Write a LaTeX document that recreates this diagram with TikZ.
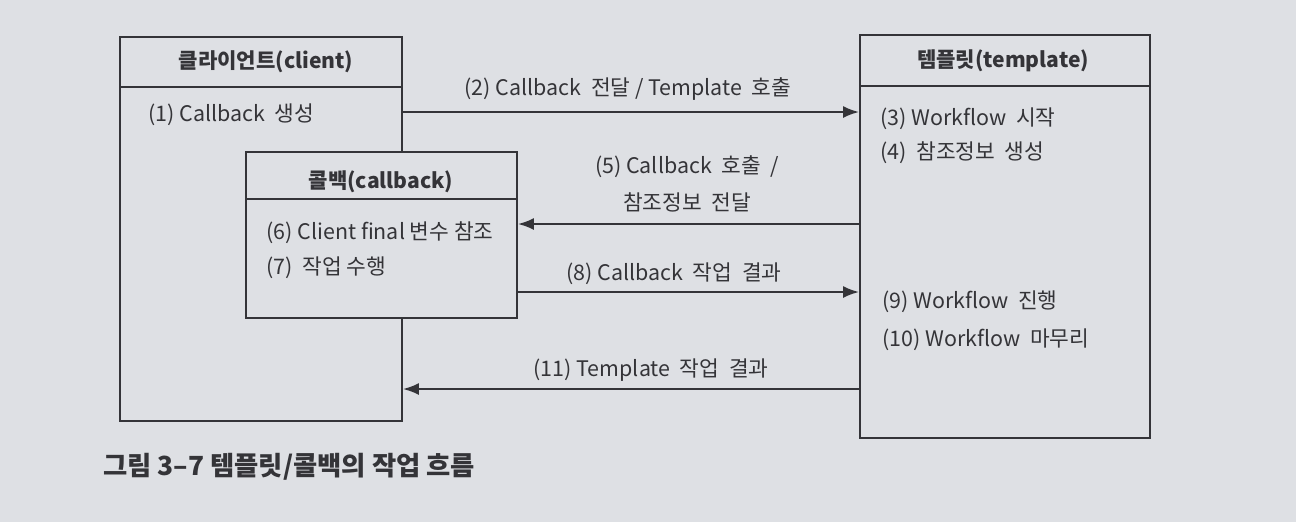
\documentclass[tikz,border=0pt]{standalone}
\usepackage{fontspec}
\setmainfont{Noto Sans CJK KR}
\usetikzlibrary{arrows.meta,fit}
\definecolor{paper}{RGB}{222,224,228}
\definecolor{ink}{RGB}{52,52,56}

\tikzset{
	box/.style={draw=ink, line width=1.1pt, fill=paper, inner sep=0pt},
	flow/.style={draw=ink, line width=1.1pt, -{Latex[length=3.2mm,width=2.4mm]}},
	lbl/.style={text=ink, font=\fontsize{12.2}{21}\selectfont, inner sep=0pt},
	item/.style={lbl, anchor=west},
	head/.style={text=ink, font=\bfseries\fontsize{12}{14}\selectfont, inner sep=0pt},
}

\begin{document}
\begin{tikzpicture}[x=0.02cm, y=-0.02cm]
		%%%%% START %%%%%
		
		\fill[paper] (0, 0) rectangle (1296, 522);
		\useasboundingbox (0, 0) rectangle (1296, 522);
		
		% client
		\node[box, fit={(120, 37) (402, 421)}] (client) {};
		\draw[ink, line width=1.1pt] (120, 87) -- (402, 87);
		\node[head] (clienthd) at (266, 62) {클라이언트(client)};
		\node[item] (step1) at (148, 115) {(1) Callback\ \ 생성};
		
		% callback
		\node[box, fit={(246, 152) (517, 318)}] (cb) {};
		\draw[ink, line width=1.1pt] (246, 199) -- (517, 199);
		\node[head] (cbhd) at (381, 182) {콜백(callback)};
		\node[item] (step6) at (266, 233) {(6) Client final 변수 참조};
		\node[item] (step7) at (266, 268) {(7)\ \ 작업 수행};
		
		% template
		\node[box, fit={(860, 35) (1150, 438)}] (tmpl) {};
		\draw[ink, line width=1.1pt] (860, 86) -- (1150, 86);
		\node[head] (tmplhd) at (1003, 61) {템플릿(template)};
		\node[item] (step3) at (880, 119) {(3) Workflow\ \ 시작};
		\node[item] (step4) at (880, 153) {(4)\ \ 참조정보\ \ 생성};
		\node[item] (step9) at (882, 302) {(9) Workflow\ \ 진행};
		\node[item] (step10) at (882, 340) {(10) Workflow\ \ 마무리};
		
		% flows
		\coordinate (y2) at (0, 112);
		\coordinate (y5) at (0, 224);
		\coordinate (y8) at (0, 292);
		\coordinate (y11) at (0, 389);
		
		\draw[flow] (client.east |- y2) -- (tmpl.west |- y2);
		\node[lbl] (msg2) at (628, 89) {(2) Callback\ \ 전달 / Template\ \ 호출};
		
		\draw[flow] (tmpl.west |- y5) -- (cb.east |- y5);
		\node[lbl, align=center] (msg5) at (687, 184) {(5) Callback\ \ 호출\ \ /\\참조정보\ \ 전달};
		
		\draw[flow] (cb.east |- y8) -- (tmpl.west |- y8);
		\node[lbl] (msg8) at (674, 274) {(8) Callback\ \ 작업\ \ 결과};
		
		\draw[flow] (tmpl.west |- y11) -- (client.east |- y11);
		\node[lbl] (msg11) at (651, 370) {(11) Template\ \ 작업\ \ 결과};
		
		% caption
		\node[text=ink, font=\bfseries\fontsize{15}{17}\selectfont, anchor=west, inner sep=0pt] (caption) at (103, 467) {그림 3–7 템플릿/콜백의 작업 흐름};
		
		%%%%% END %%%%%
	\end{tikzpicture}
\end{document}
